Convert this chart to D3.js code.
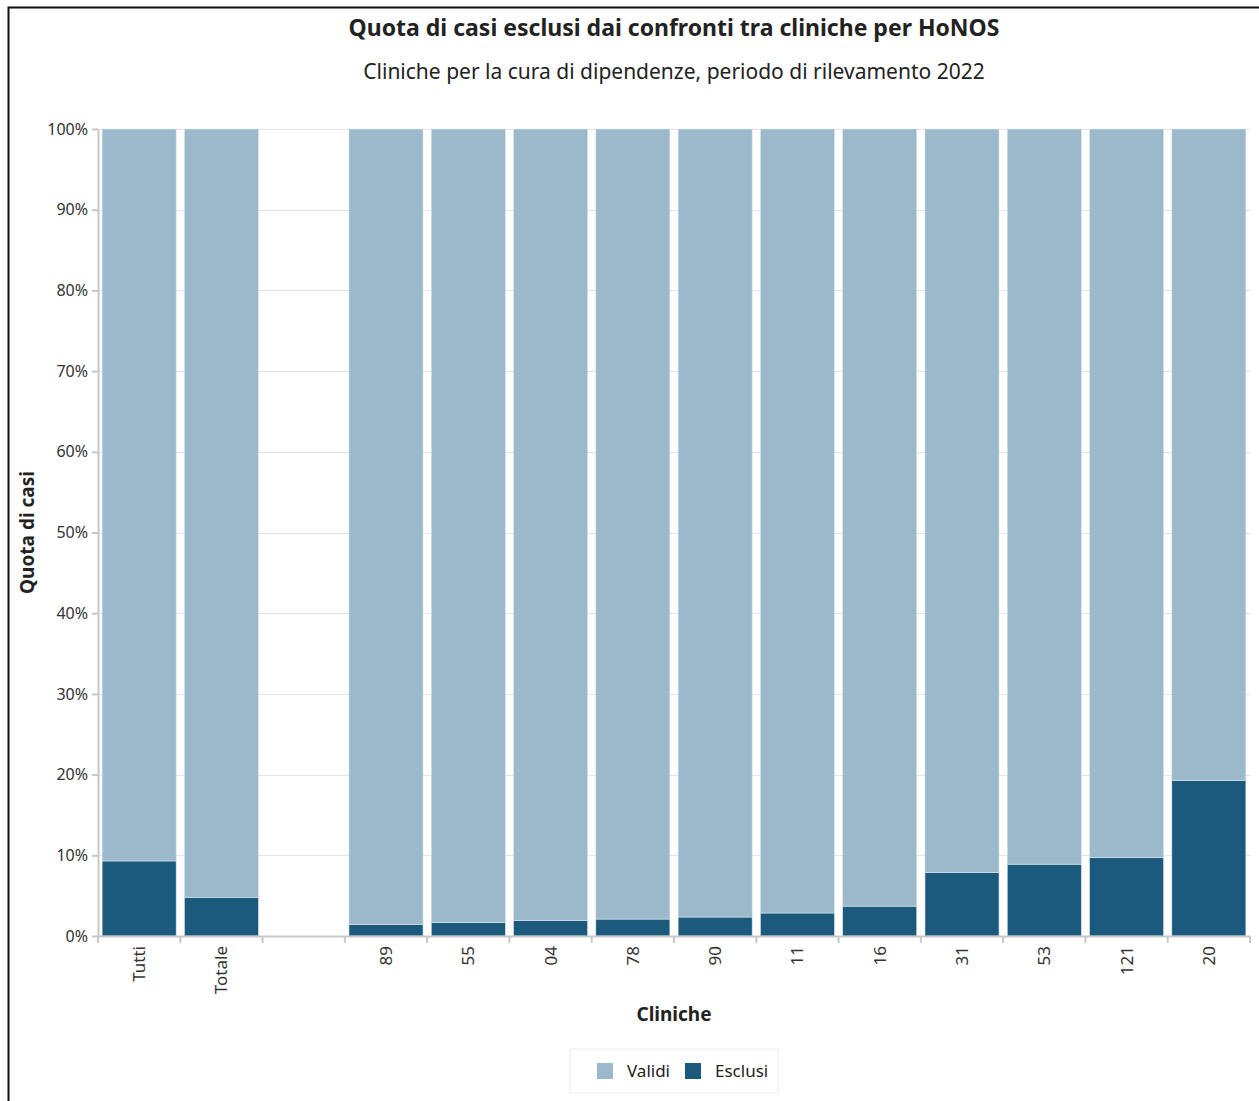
<!DOCTYPE html>
<html lang="it">
<head>
<meta charset="UTF-8">
<title>Quota di casi esclusi</title>
<script src="https://d3js.org/d3.v7.min.js"></script>
<style>
  body { margin: 0; background: #fff; }
  text { font-family: 'Noto Sans', 'Open Sans', sans-serif; fill: #222; }
  .grid line { stroke: #e3e3e3; stroke-width: 1; }
  .axis path, .axis line { stroke: #c8c8c8; stroke-width: 2; }
  .axis text { font-size: 16px; fill: #333; }
  .xaxis text { font-size: 17px; }
</style>
</head>
<body>
<script>
  const width = 1259, height = 1101;

  // data (percent)
  const categories = ["Tutti", "Totale", "", "89", "55", "04", "78", "90", "11", "16", "31", "53", "121", "20"];
  const esclusi    = [9.3, 4.8, null, 1.4, 1.65, 1.9, 2.1, 2.35, 2.85, 3.7, 7.85, 8.9, 9.7, 19.3];
  const seriesNames = ["Validi", "Esclusi"];
  const colors = ["#9bb9ca", "#1b5a7d"];
  const yTicks = [0, 10, 20, 30, 40, 50, 60, 70, 80, 90, 100];

  const margin = {top: 129, left: 98, right: 9, bottom: 165};
  const x0 = margin.left, x1 = width - margin.right;
  const y0 = height - margin.bottom, y1 = margin.top;

  const rows = categories.map((c, i) => ({
    cat: c, key: c === "" ? "_blank" : c,
    Esclusi: esclusi[i], Validi: esclusi[i] == null ? null : 100 - esclusi[i]
  }));

  const x = d3.scaleBand().domain(rows.map(d => d.key)).range([x0, x1])
      .paddingInner(0.1).paddingOuter(0.05);
  const y = d3.scaleLinear().domain([0, 100]).range([y0, y1]);

  const svg = d3.select("body").append("svg")
      .attr("width", width).attr("height", height);

  // frame
  svg.append("path").attr("d", `M8.5,${height} V7.5 H${width}`)
      .attr("fill", "none").attr("stroke", "#111").attr("stroke-width", 2);

  // title
  svg.append("text").attr("x", (x0 + x1) / 2).attr("y", 36)
      .attr("text-anchor", "middle").attr("font-size", 23).attr("font-weight", "bold")
      .text("Quota di casi esclusi dai confronti tra cliniche per HoNOS");
  svg.append("text").attr("x", (x0 + x1) / 2).attr("y", 79)
      .attr("text-anchor", "middle").attr("font-size", 21)
      .text("Cliniche per la cura di dipendenze, periodo di rilevamento 2022");

  // grid
  svg.append("g").attr("class", "grid")
    .selectAll("line").data(yTicks.slice(1)).join("line")
      .attr("x1", x0).attr("x2", x1)
      .attr("y1", d => Math.round(y(d)) + 0.5).attr("y2", d => Math.round(y(d)) + 0.5);

  // stacked bars
  const stack = d3.stack().keys(seriesNames.slice().reverse())(rows.filter(d => d.Esclusi != null));
  svg.append("g").selectAll("g").data(stack).join("g")
      .attr("fill", d => colors[seriesNames.indexOf(d.key)])
    .selectAll("rect").data(d => d).join("rect")
      .attr("x", d => x(d.data.key))
      .attr("width", x.bandwidth())
      .attr("y", d => y(d[1]))
      .attr("height", d => y(d[0]) - y(d[1]))
      .attr("stroke", "#dbe6ec").attr("stroke-width", 0.6);

  // axes
  const yAxis = d3.axisLeft(y).tickValues(yTicks).tickFormat(d => d + "%")
      .tickSize(6).tickPadding(4).tickSizeOuter(0);
  svg.append("g").attr("class", "axis").attr("transform", `translate(${x0},0)`).call(yAxis);

  const xAxisG = svg.append("g").attr("class", "axis xaxis").attr("transform", `translate(0,${y0})`);
  xAxisG.call(d3.axisBottom(x).tickSize(0).tickSizeOuter(0).tickFormat(k => k === "_blank" ? "" : k));
  xAxisG.selectAll(".tick text")
      .attr("transform", "rotate(-90)")
      .attr("text-anchor", "end")
      .attr("x", -10).attr("y", 0).attr("dy", "0.35em");
  // boundary ticks between bands
  const bounds = x.domain().map(k => x(k) - x.step() * x.paddingInner() / 2);
  bounds.push(x1);
  xAxisG.selectAll("line.sep").data(bounds).join("line").attr("class", "sep")
      .attr("x1", d => d).attr("x2", d => d).attr("y1", 0).attr("y2", 7);

  // axis titles
  svg.append("text").attr("transform", `translate(34,${(y0 + y1) / 2}) rotate(-90)`)
      .attr("text-anchor", "middle").attr("font-size", 19).attr("font-weight", "bold")
      .text("Quota di casi");
  svg.append("text").attr("x", (x0 + x1) / 2).attr("y", 1021)
      .attr("text-anchor", "middle").attr("font-size", 19).attr("font-weight", "bold")
      .text("Cliniche");

  // legend
  const lg = svg.append("g").attr("transform", "translate(570,1049)");
  lg.append("rect").attr("width", 208).attr("height", 44)
      .attr("fill", "#fff").attr("stroke", "#ececec");
  const items = lg.selectAll("g").data(seriesNames).join("g")
      .attr("transform", (d, i) => `translate(${27 + i * 88},14)`);
  items.append("rect").attr("width", 16).attr("height", 16)
      .attr("fill", (d, i) => colors[i]);
  items.append("text").attr("x", 30).attr("y", 14).attr("font-size", 17).text(d => d);
</script>
</body>
</html>
